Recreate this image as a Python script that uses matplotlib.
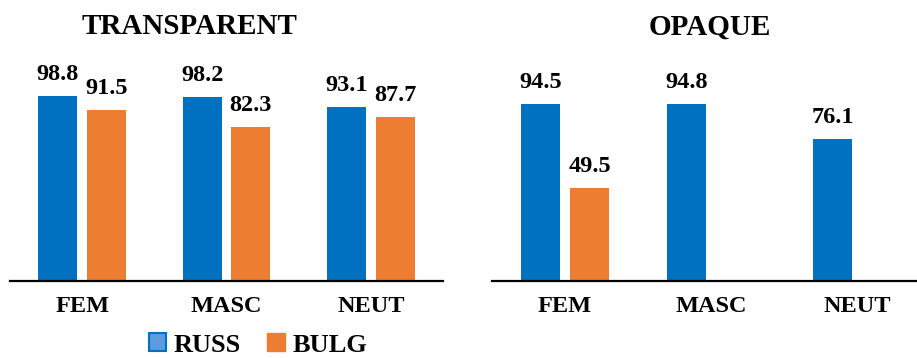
import numpy as np
import matplotlib
matplotlib.use("Agg")
import matplotlib.pyplot as plt
from matplotlib.patches import Patch

# values
categories = ["FEM", "MASC", "NEUT"]
transparent_russ = [98.8, 98.2, 93.1]
transparent_bulg = [91.5, 82.3, 87.7]
opaque_russ = [94.5, 94.8, 76.1]
opaque_bulg = [49.5, np.nan, np.nan]

BLUE = "#0070C0"
ORANGE = "#ED7D31"

plt.rcParams["font.family"] = ["Liberation Serif", "DejaVu Serif"]
plt.rcParams["font.weight"] = "bold"

W, H = 917, 358
fig = plt.figure(figsize=(W / 100, H / 100), dpi=100)

ax1 = fig.add_axes([10 / W, 77 / H, 433 / W, 224.4 / H])
ax2 = fig.add_axes([492 / W, 77 / H, 425 / W, 224.4 / H])


def draw(ax, russ, bulg, xmax):
    x = np.arange(len(categories))
    off = 0.168
    bw = 0.27
    ax.bar(x - off, russ, bw, color=BLUE)
    ax.bar(x + off, bulg, bw, color=ORANGE)
    for xi, v in zip(x - off, russ):
        if not np.isnan(v):
            ax.annotate(f"{v:.1f}", (xi, v), xytext=(0, 11.5), textcoords="offset points",
                        ha="center", va="baseline", fontsize=17.5, fontweight="bold")
    for xi, v in zip(x + off, bulg):
        if not np.isnan(v):
            ax.annotate(f"{v:.1f}", (xi, v), xytext=(0, 11.5), textcoords="offset points",
                        ha="center", va="baseline", fontsize=17.5, fontweight="bold")
    ax.set_xlim(-0.5, xmax)
    ax.set_ylim(0, 120)
    ax.set_xticks(x)
    ax.set_xticklabels(categories, fontsize=17.5, fontweight="bold")
    ax.tick_params(axis="x", length=0, pad=11)
    ax.set_yticks([])
    for s in ["top", "left", "right"]:
        ax.spines[s].set_visible(False)
    ax.spines["bottom"].set_linewidth(1.6)


draw(ax1, transparent_russ, transparent_bulg, 2.5)
draw(ax2, opaque_russ, opaque_bulg, -0.5 + 425 / 146)

fig.text(189 / W, 1 - 26 / H, "TRANSPARENT", ha="center", va="center",
         fontsize=21, fontweight="bold")
fig.text(710 / W, 1 - 27 / H, "OPAQUE", ha="center", va="center",
         fontsize=21, fontweight="bold")

handles = [Patch(facecolor="#5B9BE0", edgecolor=BLUE, linewidth=1.5, label="RUSS"),
           Patch(facecolor=ORANGE, edgecolor=ORANGE, label="BULG")]
fig.legend(handles=handles, loc="center", bbox_to_anchor=(258 / W, 1 - 345 / H),
           ncol=2, frameon=False, prop={"weight": "bold", "size": 19},
           handlelength=0.65, handleheight=0.65, handletextpad=0.3, columnspacing=1.0,
           borderpad=0)

fig.savefig("out.png", dpi=100)
